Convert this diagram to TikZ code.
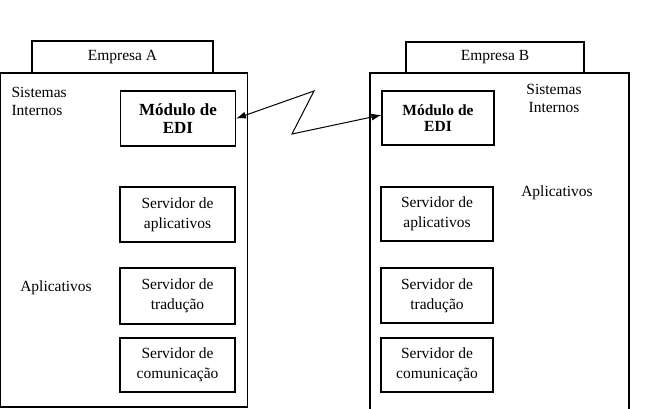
\documentclass[tikz,border=0pt]{standalone}
\usepackage{fontspec}
\setmainfont{Liberation Serif}
\usetikzlibrary{arrows.meta}
\begin{document}
\begin{tikzpicture}[x=1pt,y=-1pt, line width=1.1pt,
  box/.style={draw, align=center, inner sep=0pt, font=\fontsize{15.5}{20}\selectfont},
  container/.style={draw, inner sep=0pt},
  lbl/.style={align=center, inner sep=0pt, font=\fontsize{15.5}{18}\selectfont},
  edi/.style={box, font=\fontsize{17}{18}\selectfont\bfseries},
  link/.style={{Latex[length=10pt,width=7pt]}-{Latex[length=10pt,width=7pt]}, line width=1pt}
]
\useasboundingbox (0,0) rectangle (649,409);
% tabs
\node[box, minimum width=181pt, minimum height=32pt] (taba) at (122.5,57) {Empresa A};
\node[box, minimum width=178pt, minimum height=31pt] (tabb) at (495,57.5) {Empresa B};
% containers
\node[container, minimum width=247pt, minimum height=334pt] (outera) at (124,240) {};
\node[container, minimum width=259pt, minimum height=347pt] (outerb) at (499.5,246.5) {};
% labels
\node[lbl, align=left, anchor=west] (sia) at (11,101) {Sistemas\\Internos};
\node[lbl] (apa) at (56,288) {Aplicativos};
\node[lbl] (sib) at (554,98) {Sistemas\\Internos};
\node[lbl] (apb) at (557,193) {Aplicativos};
% EDI modules
\node[edi, minimum width=115pt, minimum height=55pt] (edia) at (178,118.5) {Módulo de\\EDI};
\node[edi, minimum width=112pt, minimum height=54pt, font=\fontsize{15.5}{16}\selectfont\bfseries] (edib) at (438,118) {Módulo de\\EDI};
% servers A
\node[box, minimum width=115pt, minimum height=55pt] (sapa) at (177.5,214.5) {Servidor de\\aplicativos};
\node[box, minimum width=115pt, minimum height=56pt] (stra) at (177.5,296) {Servidor de\\tradução};
\node[box, minimum width=115pt, minimum height=54pt] (scoa) at (177.5,365) {Servidor de\\comunicação};
% servers B
\node[box, minimum width=112pt, minimum height=54pt] (sapb) at (437,214) {Servidor de\\aplicativos};
\node[box, minimum width=112pt, minimum height=55pt] (strb) at (437,295.5) {Servidor de\\tradução};
\node[box, minimum width=112pt, minimum height=54pt] (scob) at (437,365) {Servidor de\\comunicação};
% link
\coordinate (z1) at (314,91);
\coordinate (z2) at (292,134);
\draw[link] (edia.east) -- (z1) -- (z2) -- ([yshift=3pt]edib.west);
\end{tikzpicture}
\end{document}
